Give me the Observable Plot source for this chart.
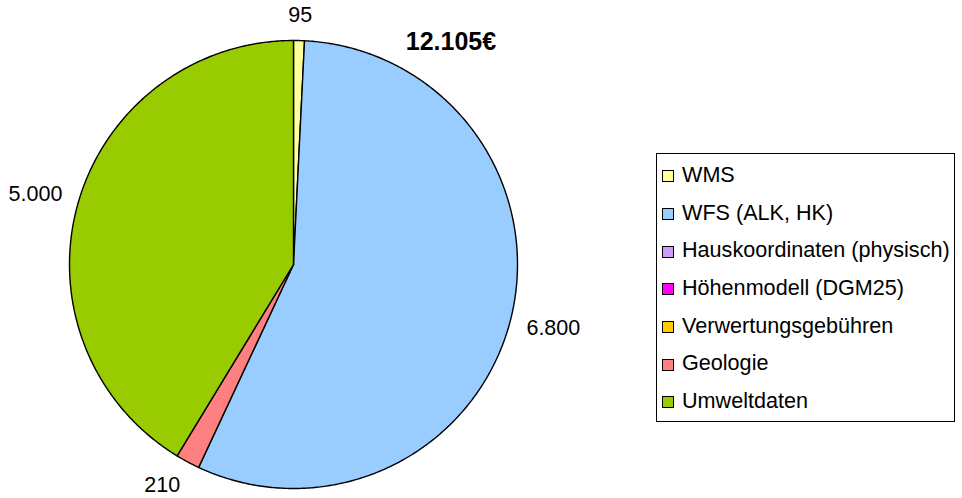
<!DOCTYPE html>
<html>
<head>
<meta charset="utf-8">
<script src="https://cdn.jsdelivr.net/npm/d3@7"></script>
<script src="https://cdn.jsdelivr.net/npm/@observablehq/plot@0.6"></script>
<style>
  html, body { margin: 0; padding: 0; background: #fff; }
  #wrap { position: relative; width: 962px; height: 498px; font-family: "Liberation Sans", Arial, sans-serif; }
  #wrap svg { position: absolute; left: 0; top: 0; }
  #total { position: absolute; left: 451px; top: 41px; transform: translate(-50%, -50%); font-weight: bold; font-size: 25px; color: #000; white-space: nowrap; }
  #legend { position: absolute; left: 656px; top: 153px; width: 297px; height: 265px; border: 1px solid #000; box-sizing: content-box; padding-top: 2px; }
  .item { height: 37.7px; display: flex; align-items: center; font-size: 21.6px; color: #000; white-space: nowrap; }
  .sw { width: 10px; height: 10px; border: 1px solid #000; margin-left: 5px; margin-right: 8px; flex: none; margin-top: 3px; }
</style>
</head>
<body>
<div id="wrap">
  <div id="total"></div>
  <div id="legend"></div>
</div>
<script>
const categories = ["WMS", "WFS (ALK, HK)", "Hauskoordinaten (physisch)", "Höhenmodell (DGM25)", "Verwertungsgebühren", "Geologie", "Umweltdaten"];
const values = [95, 6800, 0, 0, 0, 210, 5000];
const colors = ["#FFFF99", "#99CCFF", "#CC99FF", "#FF00FF", "#FFCC00", "#FF8080", "#99CC00"];

const de = d3.formatLocale({decimal: ",", thousands: ".", grouping: [3], currency: ["", "€"]});
const fmt = de.format(",d");
const total = d3.sum(values);
document.getElementById("total").textContent = fmt(total) + "€";

const rows = categories.map((name, i) => ({name, value: values[i], color: colors[i]}));
const arcs = d3.pie().sort(null).value(d => d.value)(rows);

// polygon points for each non-zero slice (unit circle coordinates)
const pts = [];
for (const a of arcs) {
  if (a.data.value <= 0) continue;
  const n = Math.max(2, Math.ceil((a.endAngle - a.startAngle) / (Math.PI / 360)));
  pts.push({name: a.data.name, x: 0, y: 0});
  for (let k = 0; k <= n; k++) {
    const t = a.startAngle + (a.endAngle - a.startAngle) * k / n;
    pts.push({name: a.data.name, x: Math.sin(t), y: Math.cos(t)});
  }
  pts.push({name: a.data.name, x: 0, y: 0});
}

// label positions outside the pie
const R = 224;
const FS = 21.5;
const ctx = document.createElement("canvas").getContext("2d");
ctx.font = FS + "px 'Liberation Sans'";
const f = v => Math.max(-1, Math.min(1, v / 0.4));
const labels = arcs.filter(a => a.data.value > 0).map(a => {
  const m = (a.startAngle + a.endAngle) / 2;
  const text = fmt(a.data.value);
  const w = ctx.measureText(text).width;
  const h = 18;
  const s = Math.sin(m), c = Math.cos(m);
  const px = 240 * s + (w / 2) * f(s);
  const py = 240 * c + (h / 2) * f(c);
  return {text, x: px / R, y: py / R};
});

const cx = 293, cy = 264;
const chart = Plot.plot({
  width: 962,
  height: 498,
  margin: 0,
  x: {domain: [-1, 1], range: [cx - R, cx + R], axis: null},
  y: {domain: [-1, 1], range: [cy + R, cy - R], axis: null},
  color: {domain: categories, range: colors},
  style: {fontFamily: "'Liberation Sans', Arial, sans-serif", background: "transparent"},
  marks: [
    Plot.line(pts, {x: "x", y: "y", z: "name", fill: "name", stroke: "#000", strokeWidth: 1.4, strokeLinejoin: "round", curve: "linear"}),
    Plot.text(labels, {x: "x", y: "y", text: "text", fontSize: FS, fill: "#000", textAnchor: "middle", lineAnchor: "middle"})
  ]
});
document.getElementById("wrap").prepend(chart);

const legend = document.getElementById("legend");
for (const r of rows) {
  const it = document.createElement("div");
  it.className = "item";
  const sw = document.createElement("span");
  sw.className = "sw";
  sw.style.background = r.color;
  const tx = document.createElement("span");
  tx.textContent = r.name;
  it.append(sw, tx);
  legend.append(it);
}
</script>
</body>
</html>
